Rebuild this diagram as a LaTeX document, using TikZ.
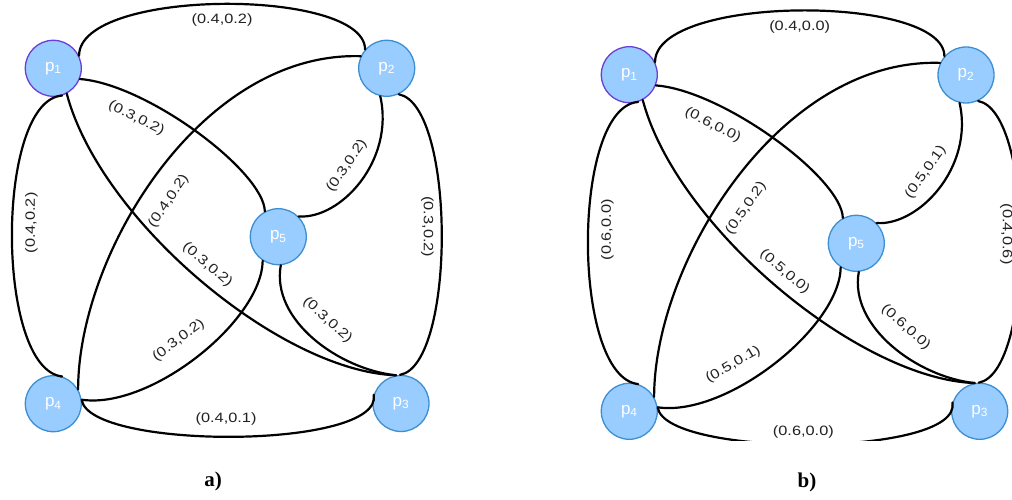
\documentclass[tikz,border=0pt]{standalone}
\usepackage{fontspec}
\setmainfont{Liberation Serif}
\newfontfamily\peerfont{Liberation Sans}
\newfontfamily\weightfont[FakeStretch=1.21]{Liberation Sans}
\usepackage{xcolor}
\usetikzlibrary{positioning}
\definecolor{peerfill}{HTML}{99CCFF}
\definecolor{peerborder}{HTML}{3D8FD1}
\definecolor{rootborder}{HTML}{6A3FD6}
\definecolor{weightink}{HTML}{222222}

\begin{document}
\begin{tikzpicture}[x=1pt, y=-1pt,
    peer/.style={circle, fill=peerfill, draw=peerborder, line width=1.3pt,
                 minimum size=56pt, inner sep=0pt, text=white,
                 font=\peerfont\fontsize{17}{17}\selectfont},
    root/.style={peer, draw=rootborder},
    link/.style={line width=2.2pt, line cap=round},
    weight/.style={text=weightink, inner sep=0pt,
                   font=\weightfont\fontsize{13.5}{14}\selectfont},
    caption/.style={font=\bfseries\fontsize{21}{21}\selectfont}]
  \path[use as bounding box, fill=white] (0,0) rectangle (1012,500);

  % a) -------------------------------------------------------------
  \node[root] (pa1) at (53.3,68.3)   {p\textsubscript{1}};
  \node[peer] (pa2) at (386.7,68.3)  {p\textsubscript{2}};
  \node[peer] (pa3) at (401,403.5)   {p\textsubscript{3}};
  \node[peer] (pa4) at (53.3,403.7)  {p\textsubscript{4}};
  \node[peer] (pa5) at (278.3,236.7) {p\textsubscript{5}};

  \draw[link] (pa1.26) .. controls +(0,-68) and +(0,-62) .. (pa2.139)
    node[weight, midway, below=9pt] (wa12) {(0.4,0.2)};
  \draw[link] (pa1.-22) .. controls +(67,5) and +(-1,-40) .. (pa5.118)
    node[weight, pos=.285, sloped, below=13pt] (wa15) {(0.3,0.2)};
  \draw[link] (pa1.-62) .. controls +(33.6,127) and +(-116,-4) .. (pa3.100)
    node[weight, pos=.49, sloped, above=9pt] (wa13) {(0.3,0.2)};
  \draw[link] (pa1.-72) .. controls +(-67,5) and +(-67,-7) .. (pa4.72)
    node[weight, pos=.47, rotate=90, anchor=north, inner ysep=12pt] (wa14) {(0.4,0.2)};
  \draw[link] (pa2.155) .. controls +(-160,-5) and +(0,-135) .. (pa4.30)
    node[weight, pos=.54, sloped, below=18pt] (wa24) {(0.4,0.2)};
  \draw[link] (pa2.-103) .. controls +(14.6,64.4) and +(42,3) .. (pa5.45)
    node[weight, pos=.47, sloped, above=13pt] (wa25) {(0.3,0.2)};
  \draw[link] (pa2.-65) .. controls +(57,11) and +(56,-10) .. (pa3.92)
    node[weight, pos=.48, rotate=-90, anchor=north, inner ysep=7pt] (wa23) {(0.3,0.2)};
  \draw[link] (pa5.-123) .. controls +(-1,60) and +(69,10) .. (pa4.8)
    node[weight, pos=.52, sloped, above=17pt] (wa54) {(0.3,0.2)};
  \draw[link] (pa5.-85) .. controls +(-10,55) and +(-57,-6) .. (pa3.100)
    node[weight, pos=.49, sloped, above=16pt] (wa53) {(0.3,0.2)};
  \draw[link] (pa4.7) .. controls +(9,50) and +(10,55) .. (pa3.162)
    node[weight, pos=.48, above=10pt] (wa43) {(0.4,0.1)};

  \node[caption] (capa) at (213,481) {a)};

  % b) -------------------------------------------------------------
  \begin{scope}
    \clip (570,-5) rectangle (1012,440);
    \node[root] (pb1) at (629.3,74.7)  {p\textsubscript{1}};
    \node[peer] (pb2) at (966,75)      {p\textsubscript{2}};
    \node[peer] (pb3) at (979.7,411.3) {p\textsubscript{3}};
    \node[peer] (pb4) at (629.3,411.3) {p\textsubscript{4}};
    \node[peer] (pb5) at (856.3,243.3) {p\textsubscript{5}};

    \draw[link] (pb1.26) .. controls +(0,-68) and +(0,-62) .. (pb2.139)
      node[weight, midway, below=9pt] (wb12) {(0.4,0.0)};
    \draw[link] (pb1.-22) .. controls +(67,5) and +(-1,-40) .. (pb5.118)
      node[weight, pos=.285, sloped, below=13pt] (wb15) {(0.6,0.0)};
    \draw[link] (pb1.-62) .. controls +(33.6,127) and +(-116,-4) .. (pb3.100)
      node[weight, pos=.49, sloped, above=9pt] (wb13) {(0.5,0.0)};
    \draw[link] (pb1.-72) .. controls +(-67,5) and +(-67,-7) .. (pb4.72)
      node[weight, pos=.47, rotate=90, anchor=north, inner ysep=12pt] (wb14) {(0.6,0.0)};
    \draw[link] (pb2.155) .. controls +(-160,-5) and +(0,-135) .. (pb4.30)
      node[weight, pos=.54, sloped, below=18pt] (wb24) {(0.5,0.2)};
    \draw[link] (pb2.-103) .. controls +(14.6,64.4) and +(42,3) .. (pb5.45)
      node[weight, pos=.47, sloped, above=13pt] (wb25) {(0.5,0.1)};
    \draw[link] (pb2.-65) .. controls +(57,11) and +(56,-10) .. (pb3.92)
      node[weight, pos=.48, rotate=-90, anchor=north, inner ysep=7pt] (wb23) {(0.4,0.6)};
    \draw[link] (pb5.-123) .. controls +(-1,60) and +(69,10) .. (pb4.8)
      node[weight, pos=.63, sloped, above=15pt] (wb54) {(0.5,0.1)};
    \draw[link] (pb5.-85) .. controls +(-10,55) and +(-57,-6) .. (pb3.100)
      node[weight, pos=.49, sloped, above=16pt] (wb53) {(0.6,0.0)};
    \draw[link] (pb4.7) .. controls +(9,50) and +(10,55) .. (pb3.162)
      node[weight, pos=.48, above=5pt] (wb43) {(0.6,0.0)};
  \end{scope}

  \node[caption] (capb) at (807,482) {b)};
\end{tikzpicture}
\end{document}
